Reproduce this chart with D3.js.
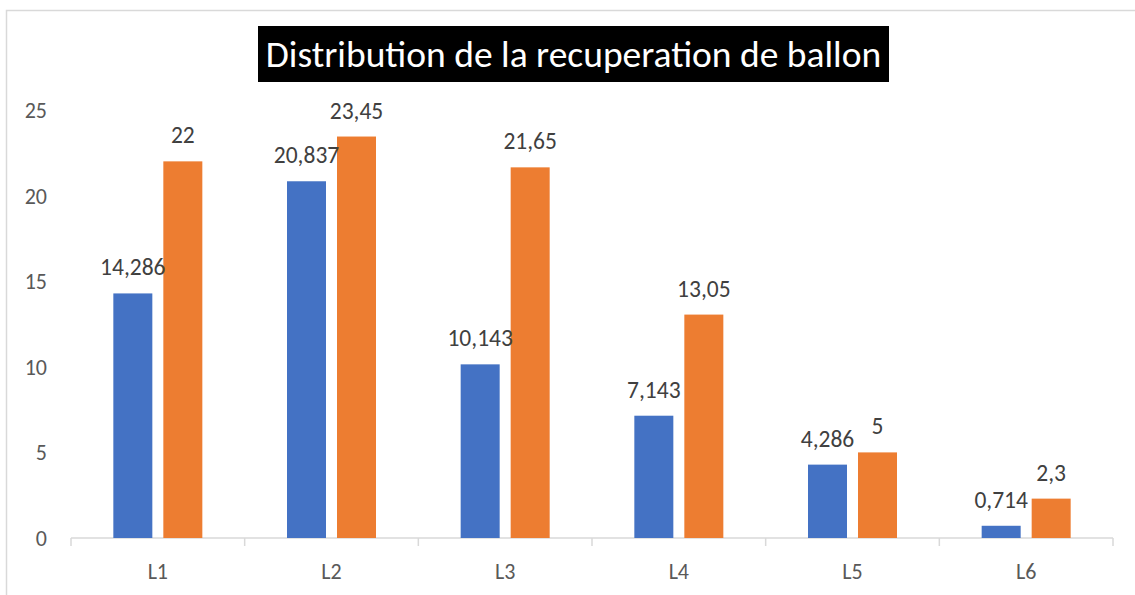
<!DOCTYPE html>
<html><head><meta charset="utf-8">
<script src="https://cdn.jsdelivr.net/npm/d3@7/dist/d3.min.js"></script>
<style>body{margin:0;background:#fff}svg{display:block}text{font-family:Carlito,Lato,"Open Sans",sans-serif}</style>
</head><body>
<svg id="c" width="1135" height="595"></svg>
<script>
const categories = ["L1","L2","L3","L4","L5","L6"];
const series1 = [14.286, 20.837, 10.143, 7.143, 4.286, 0.714];
const series2 = [22, 23.45, 21.65, 13.05, 5, 2.3];
const series1Labels = ["14,286","20,837","10,143","7,143","4,286","0,714"];
const series2Labels = ["22","23,45","21,65","13,05","5","2,3"];
const yTicks = [0,5,10,15,20,25];
const title = "Distribution de la recuperation de ballon";

const svg = d3.select("#c");
svg.append("rect").attr("x",6.5).attr("y",10.5).attr("width",1140).attr("height",600)
  .attr("fill","none").attr("stroke","#d9d9d9").attr("stroke-width",1.5);

const x0 = d3.scaleBand().domain(categories).range([71,1113]).paddingInner(0).paddingOuter(0);
const y = d3.scaleLinear().domain([0,25]).range([538,110]);
const barW = 39, gap = 11;

// title
const tg = svg.append("g");
tg.append("rect").attr("x",258).attr("y",26).attr("width",631).attr("height",56).attr("fill","#000");
tg.append("text").attr("x",573.5).attr("y",67).attr("text-anchor","middle").attr("fill","#fff")
  .style("font-size","37.5px").text(title);

// y labels
svg.append("g").selectAll("text").data(yTicks).join("text")
  .attr("x",47).attr("y",d=>y(d)+8).attr("text-anchor","end").attr("fill","#595959")
  .style("font-size","22px").text(d=>d);

// x axis
const xa = svg.append("g").attr("transform","translate(0,538)");
xa.append("line").attr("x1",71).attr("x2",1113).attr("stroke","#d9d9d9").attr("stroke-width",1.5);
const tickPos = categories.map(c=>x0(c)).concat([x0.range()[1]]);
xa.selectAll("line.t").data(tickPos).join("line").attr("class","t")
  .attr("x1",d=>d).attr("x2",d=>d).attr("y1",0).attr("y2",8).attr("stroke","#d9d9d9").attr("stroke-width",1.5);
xa.selectAll("text").data(categories).join("text")
  .attr("x",d=>x0(d)+x0.bandwidth()/2).attr("y",41).attr("text-anchor","middle").attr("fill","#595959")
  .style("font-size","22px").text(d=>d);

// bars
const bx1 = c => x0(c)+x0.bandwidth()/2 - gap/2 - barW;
const bx2 = c => x0(c)+x0.bandwidth()/2 + gap/2;
svg.append("g").selectAll("rect").data(categories).join("rect")
  .attr("x",c=>bx1(c)).attr("width",barW).attr("y",(c,i)=>y(series1[i])).attr("height",(c,i)=>y(0)-y(series1[i]))
  .attr("fill","#4472c4");
svg.append("g").selectAll("rect").data(categories).join("rect")
  .attr("x",c=>bx2(c)).attr("width",barW).attr("y",(c,i)=>y(series2[i])).attr("height",(c,i)=>y(0)-y(series2[i]))
  .attr("fill","#ed7d31");

// labels
svg.append("g").selectAll("text").data(categories).join("text")
  .attr("x",c=>bx1(c)+barW/2).attr("y",(c,i)=>y(series1[i])-18).attr("text-anchor","middle").attr("fill","#404040")
  .style("font-size","23.5px").text((c,i)=>series1Labels[i]);
svg.append("g").selectAll("text").data(categories).join("text")
  .attr("x",c=>bx2(c)+barW/2).attr("y",(c,i)=>y(series2[i])-18).attr("text-anchor","middle").attr("fill","#404040")
  .style("font-size","23.5px").text((c,i)=>series2Labels[i]);
</script>
</body></html>
